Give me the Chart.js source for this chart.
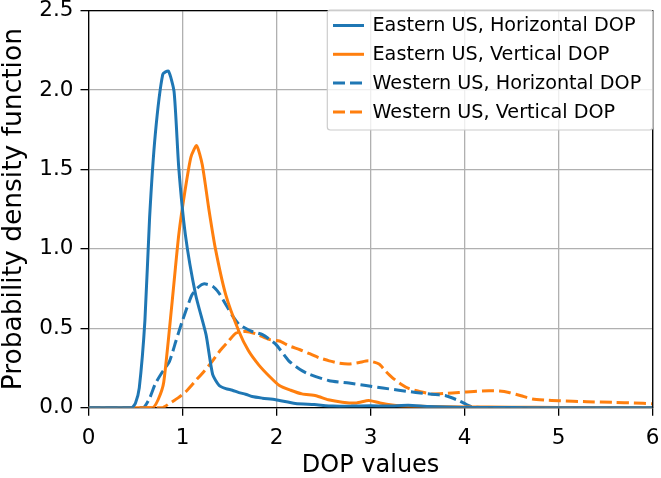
<!DOCTYPE html>
<html>
<head>
<meta charset="utf-8">
<script src="https://cdn.jsdelivr.net/npm/chart.js@4/dist/chart.umd.min.js"></script>
<style>
  html, body { margin: 0; padding: 0; background: #fff; }
  #wrap { width: 661px; height: 478px; }
</style>
</head>
<body>
<div id="wrap"><canvas id="myChart" width="661" height="478"></canvas></div>
<script>
// values
const seriesLabels = ['Eastern US, Horizontal DOP', 'Eastern US, Vertical DOP', 'Western US, Horizontal DOP', 'Western US, Vertical DOP'];

const eastHx = [0, 0.46, 0.5, 0.54, 0.6, 0.65, 0.71, 0.79, 0.85, 0.91, 0.96, 1.03, 1.14, 1.25, 1.32, 1.39, 1.46, 1.53, 1.6, 1.67, 1.74, 1.85, 1.99, 2.2, 2.4, 2.6, 2.8, 3.0, 3.2, 3.4, 3.6, 3.8, 4.0, 4.5, 5, 6];
const eastHy = [0, 0, 0.03, 0.125, 0.55, 1.2, 1.72, 2.10, 2.12, 1.99, 1.51, 1.09, 0.71, 0.46, 0.21, 0.14, 0.12, 0.11, 0.095, 0.085, 0.07, 0.06, 0.05, 0.027, 0.02, 0.01, 0.01, 0.012, 0.01, 0.015, 0.008, 0.004, 0.002, 0.001, 0, 0];

const eastVx = [0, 0.68, 0.74, 0.8, 0.89, 0.96, 1.03, 1.09, 1.15, 1.21, 1.28, 1.35, 1.46, 1.6, 1.7, 1.81, 1.92, 2.03, 2.15, 2.27, 2.42, 2.55, 2.7, 2.85, 2.98, 3.1, 3.3, 3.6, 4.0, 4.5, 5, 6];
const eastVy = [0, 0, 0.05, 0.16, 0.67, 1.09, 1.38, 1.58, 1.65, 1.53, 1.25, 1.0, 0.71, 0.48, 0.36, 0.27, 0.2, 0.14, 0.11, 0.087, 0.075, 0.05, 0.035, 0.03, 0.045, 0.03, 0.012, 0.008, 0.005, 0.003, 0.002, 0];

const westHx = [0, 0.58, 0.65, 0.71, 0.78, 0.86, 0.93, 1.0, 1.1, 1.17, 1.23, 1.32, 1.39, 1.46, 1.53, 1.6, 1.67, 1.74, 1.85, 1.99, 2.13, 2.25, 2.35, 2.56, 2.77, 2.95, 3.13, 3.3, 3.48, 3.65, 3.8, 3.94, 4.02, 4.08, 4.2, 5, 6];
const westHy = [0, 0, 0.06, 0.15, 0.22, 0.29, 0.42, 0.55, 0.71, 0.76, 0.78, 0.765, 0.72, 0.65, 0.58, 0.525, 0.5, 0.48, 0.46, 0.40, 0.295, 0.24, 0.21, 0.17, 0.155, 0.14, 0.124, 0.11, 0.096, 0.085, 0.075, 0.044, 0.02, 0.006, 0, 0, 0];

const westVx = [0, 0.78, 0.87, 0.96, 1.05, 1.14, 1.23, 1.32, 1.4, 1.49, 1.57, 1.67, 1.78, 1.92, 2.03, 2.13, 2.25, 2.35, 2.45, 2.56, 2.67, 2.77, 2.88, 2.98, 3.09, 3.16, 3.23, 3.32, 3.41, 3.53, 3.65, 3.8, 3.94, 4.1, 4.26, 4.37, 4.47, 4.6, 4.72, 4.85, 5.0, 5.3, 5.6, 5.8, 6.0];
const westVy = [0, 0, 0.03, 0.065, 0.11, 0.17, 0.23, 0.295, 0.36, 0.42, 0.47, 0.48, 0.465, 0.43, 0.42, 0.39, 0.365, 0.34, 0.315, 0.295, 0.28, 0.275, 0.285, 0.295, 0.275, 0.23, 0.19, 0.15, 0.12, 0.1, 0.087, 0.09, 0.096, 0.102, 0.107, 0.105, 0.096, 0.075, 0.055, 0.048, 0.044, 0.038, 0.033, 0.03, 0.025];

const xTicks = [0, 1, 2, 3, 4, 5, 6];
const yTicks = [0.0, 0.5, 1.0, 1.5, 2.0, 2.5];

const blue = '#1f77b4';
const orange = '#ff7f0e';
const dash = [12, 5];

const zip = (xs, ys) => xs.map((x, i) => ({ x: x, y: ys[i] }));

const makeSet = (label, xs, ys, color, dashed) => ({
	label: label,
	data: zip(xs, ys),
	borderColor: color,
	backgroundColor: color,
	borderWidth: 3,
	borderDash: dashed ? dash : [],
	pointRadius: 0,
	tension: 0.2,
	fill: false
});

// top and right spines plus the boxed legend, drawn the matplotlib way
const framePlugin = {
	id: 'frame',
	afterDatasetsDraw(chart) {
		const ctx = chart.ctx;
		const a = chart.chartArea;
		ctx.save();
		ctx.strokeStyle = '#000';
		ctx.lineWidth = 1.3;
		ctx.beginPath();
		ctx.moveTo(a.left, a.top);
		ctx.lineTo(a.right, a.top);
		ctx.lineTo(a.right, a.bottom);
		ctx.stroke();

		// legend
		const bx = 327.3, by = 10, bw = 325.4, bh = 120;
		ctx.beginPath();
		ctx.roundRect(bx, by, bw, bh, 3);
		ctx.fillStyle = 'rgba(255,255,255,0.8)';
		ctx.fill();
		ctx.strokeStyle = '#cccccc';
		ctx.lineWidth = 1.2;
		ctx.stroke();

		ctx.font = '19.2px "DejaVu Sans"';
		ctx.textBaseline = 'middle';
		ctx.textAlign = 'left';
		chart.data.datasets.forEach((ds, i) => {
			const y = 25.5 + i * 28.8;
			ctx.beginPath();
			ctx.setLineDash(ds.borderDash);
			ctx.strokeStyle = ds.borderColor;
			ctx.lineWidth = ds.borderWidth;
			ctx.moveTo(333, y);
			ctx.lineTo(364, y);
			ctx.stroke();
			ctx.setLineDash([]);
			ctx.fillStyle = '#000';
			ctx.fillText(ds.label, 372.5, y + 1);
		});
		ctx.restore();
	}
};

const ctx = document.getElementById('myChart').getContext('2d');

new Chart(ctx, {
	type: 'line',
	data: {
		datasets: [
			makeSet(seriesLabels[0], eastHx, eastHy, blue, false),
			makeSet(seriesLabels[1], eastVx, eastVy, orange, false),
			makeSet(seriesLabels[2], westHx, westHy, blue, true),
			makeSet(seriesLabels[3], westVx, westVy, orange, true)
		]
	},
	options: {
		responsive: false,
		animation: false,
		layout: { padding: { left: 0, right: 8.3, top: 10.7, bottom: 0 } },
		plugins: {
			legend: { display: false },
			tooltip: { enabled: false }
		},
		scales: {
			x: {
				type: 'linear',
				min: 0,
				max: 6,
				afterBuildTicks: s => { s.ticks = xTicks.map(v => ({ value: v })); },
				afterFit: s => { s.height = 70.3; s.paddingLeft = 0; s.paddingRight = 0; },
				ticks: {
					color: '#000',
					font: { family: 'DejaVu Sans', size: 21.5 },
					padding: 10,
					maxRotation: 0,
					callback: v => String(v)
				},
				grid: { color: '#b0b0b0', lineWidth: 1.3, tickColor: '#000', tickLength: 8, tickWidth: 1.3 },
				border: { color: '#000', width: 1.3 },
				title: {
					display: true,
					text: 'DOP values',
					color: '#000',
					font: { family: 'DejaVu Sans', size: 24, lineHeight: 1 },
					padding: 0
				}
			},
			y: {
				type: 'linear',
				min: 0,
				max: 2.5,
				afterBuildTicks: s => { s.ticks = yTicks.map(v => ({ value: v })); },
				afterFit: s => { s.width = 88.5; s.paddingTop = 0; s.paddingBottom = 0; },
				ticks: {
					color: '#000',
					font: { family: 'DejaVu Sans', size: 21.5 },
					padding: 7,
					callback: v => v.toFixed(1)
				},
				grid: { color: '#b0b0b0', lineWidth: 1.3, tickColor: '#000', tickLength: 8, tickWidth: 1.3 },
				border: { color: '#000', width: 1.3 },
				title: {
					display: true,
					text: 'Probability density function',
					color: '#000',
					font: { family: 'DejaVu Sans', size: 26.5, lineHeight: 1.08 },
					padding: 0
				}
			}
		}
	},
	plugins: [framePlugin]
});
</script>
</body>
</html>
